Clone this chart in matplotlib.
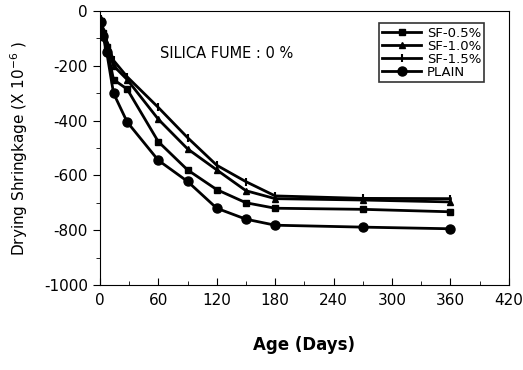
import numpy as np
import matplotlib
matplotlib.use('Agg')
import matplotlib.pyplot as plt
from matplotlib.ticker import MultipleLocator

plt.rcParams['font.family'] = ['DejaVu Sans']
plt.rcParams['axes.unicode_minus'] = False

days = [1, 3, 7, 14, 28, 60, 90, 120, 150, 180, 270, 360]
sf05 = [-35, -80, -130, -250, -285, -477, -580, -652, -700, -720, -724, -733]
sf10 = [-30, -70, -120, -200, -250, -395, -503, -580, -656, -685, -690, -697]
sf15 = [-30, -65, -110, -180, -240, -352, -462, -563, -623, -675, -684, -685]
plain = [-40, -90, -150, -300, -405, -545, -622, -720, -760, -782, -789, -795]

labels = ['SF-0.5%', 'SF-1.0%', 'SF-1.5%', 'PLAIN']

fig = plt.figure(figsize=(5.23, 3.70), dpi=100)
ax = fig.add_axes([0.191, 0.230, 0.782, 0.740])

ax.plot(days, sf05, color='black', lw=2, marker='s', ms=4, label=labels[0])
ax.plot(days, sf10, color='black', lw=2, marker='^', ms=4, label=labels[1])
ax.plot(days, sf15, color='black', lw=2, marker='|', ms=6, mew=1.5, label=labels[2])
ax.plot(days, plain, color='black', lw=2, marker='o', ms=6.5, label=labels[3])

ax.set_xlim(0, 420)
ax.set_ylim(-1000, 0)
ax.xaxis.set_major_locator(MultipleLocator(60))
ax.xaxis.set_minor_locator(MultipleLocator(30))
ax.yaxis.set_major_locator(MultipleLocator(200))
ax.yaxis.set_minor_locator(MultipleLocator(100))
ax.tick_params(axis='x', direction='in', length=5, labelsize=11, pad=6)
ax.tick_params(axis='x', which='minor', direction='in', length=3)
ax.tick_params(axis='y', direction='out', length=5, labelsize=11)
ax.tick_params(axis='y', which='minor', direction='out', length=3)

ax.text(62, -155, 'SILICA FUME : 0 %', fontsize=10.5, va='center', ha='left')

leg = ax.legend(loc='upper right', bbox_to_anchor=(0.94, 0.955), fontsize=9.5,
                frameon=True, fancybox=False, edgecolor='black',
                labelspacing=0.0, borderpad=0.25, handlelength=3.0,
                handletextpad=0.4, borderaxespad=0)
leg.get_frame().set_linewidth(1.2)

ax.set_xlabel('Age (Days)', fontsize=12, fontweight='bold', labelpad=20)
ax.set_ylabel('Drying Shringkage (X 10$^{-6}$ )', fontsize=11, labelpad=10)

fig.savefig('out.png', dpi=100)
